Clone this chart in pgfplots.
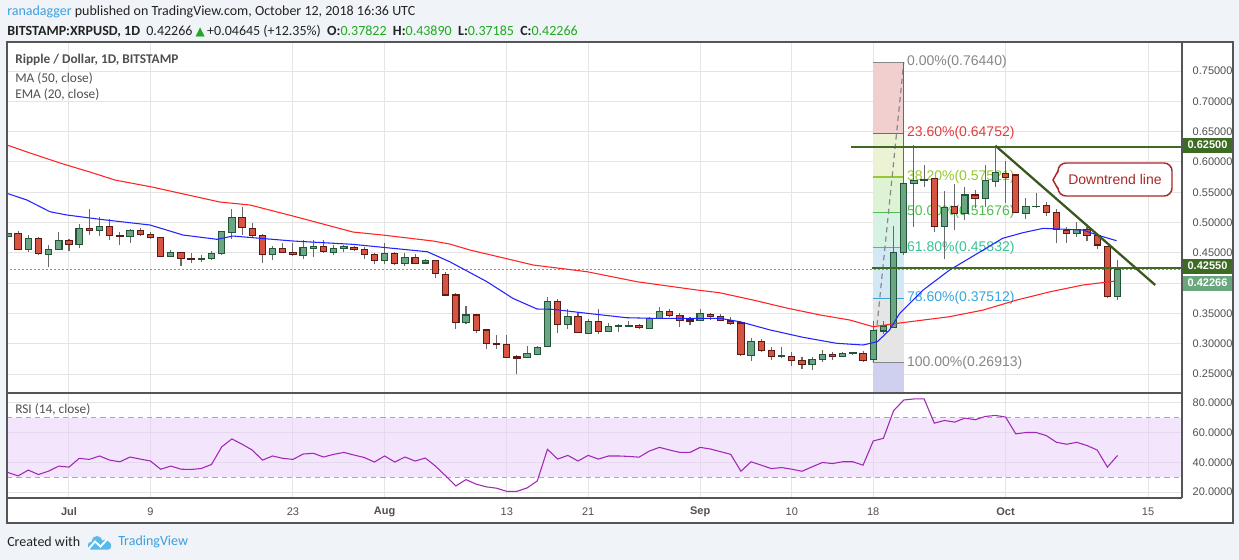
\documentclass[border=0pt]{standalone}
\usepackage{pgfplots}
\pgfplotsset{compat=1.18}
\usepackage{pgfplotstable}
\usepackage{fontspec}
\setmainfont{Carlito}
\newfontfamily\lib{Liberation Sans}
\newfontfamily\dejavu{DejaVu Sans}
\newcommand\fs[1]{\fontsize{#1}{#1}\selectfont}
\definecolor{pagebg}{RGB}{240,243,248}
\definecolor{framec}{RGB}{85,85,85}
\definecolor{gridc}{RGB}{228,228,228}
\definecolor{labc}{RGB}{80,80,80}
\definecolor{upfill}{RGB}{107,165,131}
\definecolor{upline}{RGB}{34,84,55}
\definecolor{dnfill}{RGB}{215,84,66}
\definecolor{dnline}{RGB}{91,26,19}
\definecolor{wickc}{RGB}{105,105,105}
\definecolor{mared}{RGB}{255,35,35}
\definecolor{emablue}{RGB}{35,35,255}
\definecolor{lvlgreen}{RGB}{61,107,35}
\definecolor{trendc}{RGB}{58,88,30}
\definecolor{lastc}{RGB}{106,167,126}
\definecolor{callc}{RGB}{170,40,40}
\definecolor{rsic}{RGB}{160,40,180}
\definecolor{rsiband}{RGB}{231,205,251}
\definecolor{rsidash}{RGB}{175,165,185}
\definecolor{tvblue}{RGB}{58,160,224}
\definecolor{tvlogo}{RGB}{90,185,234}
\definecolor{tvgreen}{RGB}{30,170,30}
\definecolor{hdr}{RGB}{35,35,35}
\definecolor{fibgray}{RGB}{135,135,135}
\definecolor{fibred}{RGB}{224,62,62}
\definecolor{fibyg}{RGB}{150,200,50}
\definecolor{fibg}{RGB}{80,190,80}
\definecolor{fibteal}{RGB}{55,196,150}
\definecolor{fibblue}{RGB}{55,165,220}
\definecolor{bandA}{RGB}{242,207,207}
\definecolor{bandB}{RGB}{236,243,213}
\definecolor{bandC}{RGB}{222,243,212}
\definecolor{bandD}{RGB}{214,242,228}
\definecolor{bandE}{RGB}{210,233,245}
\definecolor{bandF}{RGB}{229,229,229}
\definecolor{bandG}{RGB}{207,207,240}

\pgfplotstableread{
d o h l c
-6 0.4766 0.4992 0.4761 0.4822
-5 0.4822 0.4860 0.4546 0.4558
-4 0.4558 0.4794 0.4518 0.4739
-3 0.4739 0.4756 0.4464 0.4492
-2 0.4475 0.4629 0.4271 0.4558
-1 0.4558 0.4843 0.4546 0.4706
0 0.4706 0.4723 0.4534 0.4640
1 0.4640 0.4975 0.4574 0.4904
2 0.4904 0.5218 0.4794 0.4871
3 0.4871 0.5086 0.4782 0.4942
4 0.4942 0.5053 0.4711 0.4789
5 0.4789 0.4848 0.4629 0.4766
6 0.4766 0.4893 0.4667 0.4871
7 0.4871 0.4904 0.4777 0.4805
8 0.4805 0.4843 0.4723 0.4749
9 0.4756 0.4766 0.4431 0.4442
10 0.4442 0.4546 0.4426 0.4508
11 0.4508 0.4518 0.4282 0.4409
12 0.4409 0.4492 0.4327 0.4386
13 0.4386 0.4464 0.4353 0.4409
14 0.4403 0.4530 0.4381 0.4485
15 0.4492 0.4865 0.4464 0.4855
16 0.4838 0.5223 0.4728 0.5086
17 0.5086 0.5261 0.4794 0.4921
18 0.4904 0.4997 0.4739 0.4789
19 0.4789 0.4810 0.4337 0.4469
20 0.4475 0.4617 0.4381 0.4574
21 0.4574 0.4667 0.4502 0.4502
22 0.4508 0.4667 0.4447 0.4475
23 0.4453 0.4711 0.4398 0.4591
24 0.4574 0.4711 0.4436 0.4607
25 0.4607 0.4711 0.4502 0.4518
26 0.4508 0.4629 0.4464 0.4574
27 0.4574 0.4629 0.4518 0.4607
28 0.4591 0.4612 0.4534 0.4558
29 0.4558 0.4601 0.4393 0.4475
30 0.4475 0.4492 0.4310 0.4376
31 0.4376 0.4657 0.4310 0.4492
32 0.4492 0.4518 0.4299 0.4327
33 0.4327 0.4502 0.4288 0.4426
34 0.4426 0.4480 0.4310 0.4327
35 0.4332 0.4403 0.4310 0.4381
36 0.4376 0.4381 0.4079 0.4162
37 0.4145 0.4178 0.3804 0.3804
38 0.3804 0.3832 0.3243 0.3353
39 0.3353 0.3627 0.3325 0.3474
40 0.3474 0.3474 0.3172 0.3221
41 0.3226 0.3243 0.2918 0.3000
42 0.3007 0.3144 0.2918 0.2984
43 0.2990 0.3144 0.2759 0.2776
44 0.2781 0.2808 0.2495 0.2759
45 0.2776 0.2970 0.2759 0.2842
46 0.2825 0.2970 0.2808 0.2941
47 0.2957 0.3776 0.2951 0.3700
48 0.3700 0.3733 0.3172 0.3320
49 0.3320 0.3568 0.3238 0.3452
50 0.3452 0.3529 0.3188 0.3188
51 0.3172 0.3403 0.3172 0.3370
52 0.3370 0.3573 0.3155 0.3205
53 0.3205 0.3337 0.3196 0.3287
54 0.3287 0.3320 0.3196 0.3304
55 0.3287 0.3375 0.3271 0.3304
56 0.3298 0.3320 0.3238 0.3265
57 0.3254 0.3447 0.3238 0.3419
58 0.3419 0.3611 0.3403 0.3535
59 0.3535 0.3568 0.3436 0.3469
60 0.3469 0.3502 0.3271 0.3386
61 0.3391 0.3436 0.3304 0.3375
62 0.3386 0.3568 0.3370 0.3502
63 0.3485 0.3502 0.3386 0.3447
64 0.3452 0.3485 0.3370 0.3386
65 0.3375 0.3436 0.3304 0.3337
66 0.3342 0.3370 0.2803 0.2825
67 0.2808 0.3089 0.2720 0.3040
68 0.3040 0.3073 0.2858 0.2891
69 0.2891 0.2951 0.2731 0.2786
70 0.2786 0.2951 0.2759 0.2797
71 0.2792 0.2863 0.2632 0.2726
72 0.2726 0.2781 0.2583 0.2660
73 0.2660 0.2776 0.2566 0.2743
74 0.2743 0.2896 0.2704 0.2825
75 0.2825 0.2869 0.2737 0.2786
76 0.2786 0.2869 0.2786 0.2842
77 0.2836 0.2858 0.2820 0.2847
78 0.2842 0.2880 0.2704 0.2720
79 0.2743 0.3380 0.26913 0.3215
80 0.3210 0.3380 0.3155 0.3292
81 0.3271 0.4942 0.3265 0.4508
82 0.4508 0.7644 0.4464 0.5646
83 0.5646 0.6279 0.4931 0.5701
84 0.5701 0.5949 0.5591 0.5717
85 0.5728 0.5728 0.4848 0.4931
86 0.4931 0.5525 0.4393 0.5251
87 0.5272 0.5630 0.4876 0.5152
88 0.5152 0.5581 0.5041 0.5454
89 0.5454 0.5536 0.5234 0.5399
90 0.5399 0.5949 0.5261 0.5701
91 0.5673 0.6251 0.5591 0.5828
92 0.5812 0.6015 0.5317 0.5746
93 0.5784 0.5784 0.5152 0.5168
94 0.5152 0.5399 0.5053 0.5261
95 0.5261 0.5482 0.5234 0.5272
96 0.5278 0.5333 0.5113 0.5168
97 0.5168 0.5218 0.4657 0.4888
98 0.4876 0.4931 0.4667 0.4822
99 0.4822 0.5014 0.4766 0.4888
100 0.4888 0.4931 0.4700 0.4789
101 0.4789 0.4810 0.4563 0.4629
102 0.4601 0.4601 0.3755 0.3782
103 0.37822 0.43890 0.37185 0.42266
}\candles

\pgfplotstableread{
d v
-6.09 0.6279
-3.83 0.6147
-0.88 0.5982
2.06 0.5833
4.52 0.5701
8.15 0.5586
14.83 0.5338
17.78 0.5289
22.0 0.5107
27.9 0.4843
30.8 0.4794
35.76 0.4695
37.4 0.4645
39.4 0.4546
45.6 0.4299
50.9 0.4188
55.8 0.4023
61.7 0.3886
63.9 0.3842
67.2 0.3721
70.5 0.3589
73.8 0.3474
76.7 0.3391
79.0 0.3281
81.6 0.3342
86.5 0.3446
89.8 0.3556
93.1 0.3721
96.4 0.3858
99.6 0.3969
102.8 0.4035
}\matab

\pgfplotstableread{
d v
-6.09 0.5482
-4.13 0.5371
-1.87 0.5178
-0.2 0.5124
3.05 0.5053
7.96 0.4959
11.2 0.4794
14.54 0.4723
16.1 0.4777
22.0 0.4695
27.9 0.4640
30.8 0.4591
32.5 0.4563
35.2 0.4518
37.4 0.4353
41.06 0.4023
43.6 0.3749
45.97 0.3573
47.5 0.3568
50.9 0.3502
54.8 0.3429
57.4 0.3419
63.95 0.3419
65.9 0.3363
68.9 0.3226
72.1 0.3106
75.4 0.3007
78.0 0.2979
79.4 0.3033
80.6 0.3226
81.6 0.3502
83.9 0.3886
86.5 0.4216
89.8 0.4546
91.7 0.4739
93.7 0.4832
95.7 0.4904
99.6 0.4876
101.0 0.4794
102.9 0.4700
}\ematab

\pgfplotstableread{
d r
-6 33.2
-5 30.9
-4 34.8
-3 31.8
-2 34.1
-1 37.5
0 36.8
1 42.7
2 42.0
3 44.3
4 41.5
5 40.4
6 43.6
7 42.2
8 40.9
9 35.4
10 37.5
11 35.4
12 35.2
13 35.9
14 38.6
15 50.4
16 55.8
17 52.2
18 48.3
19 41.5
20 44.3
21 42.7
22 42.0
23 45.6
24 46.1
25 43.6
26 45.4
27 46.7
28 44.9
29 43.3
30 40.2
31 44.3
32 40.2
33 43.6
34 40.9
35 42.9
36 37.5
37 30.9
38 24.1
39 28.4
40 25.3
41 23.5
42 22.6
43 20.5
44 20.5
45 22.8
46 27.5
47 48.8
48 42.2
49 44.7
50 40.9
51 44.7
52 42.2
53 44.3
54 44.3
55 44.0
56 43.5
57 47.6
58 50.1
59 48.3
60 46.7
61 46.7
62 50.1
63 49.0
64 47.2
65 45.4
66 34.0
67 40.4
68 38.1
69 35.8
70 36.5
71 35.4
72 34.0
73 37.0
74 39.9
75 39.2
76 40.4
77 40.4
78 38.1
79 54.4
80 56.2
81 74.8
82 82.0
83 82.7
84 82.7
85 66.4
86 68.2
87 67.1
88 69.8
89 68.7
90 70.9
91 71.6
92 70.5
93 59.2
94 60.1
95 60.1
96 58.0
97 53.5
98 52.2
99 53.5
100 51.3
101 48.3
102 36.8
103 44.7
}\rsitab

\pgfplotsset{
  tvaxis/.style={
    scale only axis, anchor=north west,
    xmin=-6.09, xmax=109.33,
    axis line style={draw=none},
    major tick length=0pt,
    grid=major,
    major grid style={draw=gridc, line width=0.75pt},
    xtick={0,8,22,31,43,51,62,71,79,92,106},
    scaled y ticks=false,
    yticklabel pos=right,
    yticklabel style={font=\lib\fs{8.25}, text=labc, anchor=west, xshift=4.5pt},
    clip=true,
  }
}

\begin{document}
\begin{tikzpicture}[x=0.75pt,y=-0.75pt]
\fill[pagebg] (0,0) rectangle (1239,560);
\fill[white] (7,42) rectangle (1233,523);

% ---------------- price panel ----------------
\begin{axis}[tvaxis,
  at={(5.25pt,-31.5pt)}, width=881.25pt, height=263.25pt,
  ymin=0.2187, ymax=0.7979,
  ytick={0.25,0.30,0.35,0.45,0.50,0.55,0.60,0.65,0.70,0.75},
  extra y ticks={0.40}, extra y tick labels={},
  extra y tick style={grid=major, major tick length=0pt},
  xticklabels={},
  yticklabel style={/pgf/number format/.cd, fixed, fixed zerofill, precision=5, assume math mode=true},
]
% fib bands
\addplot[fill=bandA, draw=none, forget plot] coordinates {(79,0.64752)(82,0.64752)(82,0.7644)(79,0.7644)} --cycle;
\addplot[fill=bandB, draw=none, forget plot] coordinates {(79,0.57521)(82,0.57521)(82,0.64752)(79,0.64752)} --cycle;
\addplot[fill=bandC, draw=none, forget plot] coordinates {(79,0.51676)(82,0.51676)(82,0.57521)(79,0.57521)} --cycle;
\addplot[fill=bandD, draw=none, forget plot] coordinates {(79,0.45832)(82,0.45832)(82,0.51676)(79,0.51676)} --cycle;
\addplot[fill=bandE, draw=none, forget plot] coordinates {(79,0.37512)(82,0.37512)(82,0.45832)(79,0.45832)} --cycle;
\addplot[fill=bandF, draw=none, forget plot] coordinates {(79,0.26913)(82,0.26913)(82,0.37512)(79,0.37512)} --cycle;
\addplot[fill=bandG, draw=none, forget plot] coordinates {(79,0.20)(82,0.20)(82,0.26913)(79,0.26913)} --cycle;
% fib levels
\addplot[fibgray, line width=0.9pt, forget plot] coordinates {(79,0.7644)(82,0.7644)};
\addplot[fibred, line width=0.9pt, forget plot] coordinates {(79,0.64752)(82,0.64752)};
\addplot[fibyg, line width=0.9pt, forget plot] coordinates {(79,0.57521)(82,0.57521)};
\addplot[fibg, line width=0.9pt, forget plot] coordinates {(79,0.51676)(82,0.51676)};
\addplot[fibteal, line width=0.9pt, forget plot] coordinates {(79,0.45832)(82,0.45832)};
\addplot[fibblue, line width=0.9pt, forget plot] coordinates {(79,0.37512)(82,0.37512)};
\addplot[fibgray, line width=0.9pt, forget plot] coordinates {(79,0.26913)(82,0.26913)};
\addplot[fibgray, line width=0.9pt, dash pattern=on 4pt off 3pt, forget plot] coordinates {(79,0.26913)(82,0.7644)};
\node[anchor=west, text=fibgray, font=\lib\fs{10.5}, inner sep=0pt] at (axis cs:82.3,0.7644) {0.00\%(0.76440)};
\node[anchor=west, text=fibred, font=\lib\fs{10.5}, inner sep=0pt] at (axis cs:82.3,0.64752) {23.60\%(0.64752)};
\node[anchor=west, text=fibyg, font=\lib\fs{10.5}, inner sep=0pt] at (axis cs:82.3,0.57521) {38.20\%(0.57521)};
\node[anchor=west, text=fibg, font=\lib\fs{10.5}, inner sep=0pt] at (axis cs:82.3,0.51676) {50.00\%(0.51676)};
\node[anchor=west, text=fibteal, font=\lib\fs{10.5}, inner sep=0pt] at (axis cs:82.3,0.45832) {61.80\%(0.45832)};
\node[anchor=west, text=fibblue, font=\lib\fs{10.5}, inner sep=0pt] at (axis cs:82.3,0.37512) {78.60\%(0.37512)};
\node[anchor=west, text=fibgray, font=\lib\fs{10.5}, inner sep=0pt] at (axis cs:82.3,0.26913) {100.00\%(0.26913)};
% last price line
\addplot[lastc, line width=0.75pt, dash pattern=on 1.5pt off 1.5pt, forget plot] coordinates {(-7,0.42266)(110,0.42266)};
% candles
\pgfplotstablegetrowsof{\candles}
\pgfmathtruncatemacro{\lastrow}{\pgfplotsretval-1}
\pgfplotsforeachungrouped \i in {0,...,\lastrow}{%
  \pgfplotstablegetelem{\i}{d}\of\candles \edef\cd{\pgfplotsretval}%
  \pgfplotstablegetelem{\i}{o}\of\candles \edef\co{\pgfplotsretval}%
  \pgfplotstablegetelem{\i}{h}\of\candles \edef\ch{\pgfplotsretval}%
  \pgfplotstablegetelem{\i}{l}\of\candles \edef\cl{\pgfplotsretval}%
  \pgfplotstablegetelem{\i}{c}\of\candles \edef\cc{\pgfplotsretval}%
  \pgfmathtruncatemacro{\up}{\cc>=\co}%
  \ifnum\up=1 \def\fc{upfill}\def\bc{upline}\else\def\fc{dnfill}\def\bc{dnline}\fi
  \pgfmathsetmacro{\xa}{\cd-0.31}%
  \pgfmathsetmacro{\xb}{\cd+0.31}%
  \edef\temp{\noexpand\addplot[draw=wickc, line width=0.8pt, forget plot] coordinates {(\cd,\cl) (\cd,\ch)};
  \noexpand\addplot[draw=\bc, fill=\fc, line width=0.8pt, forget plot] coordinates {(\xa,\co) (\xb,\co) (\xb,\cc) (\xa,\cc)} --cycle;}%
  \temp
}
% moving averages
\addplot[mared, line width=0.8pt, forget plot] table[x=d, y=v] {\matab};
\addplot[emablue, line width=0.8pt, forget plot] table[x=d, y=v] {\ematab};
% horizontal levels and trend line
\addplot[lvlgreen, line width=1.7pt, forget plot] coordinates {(76.8,0.625)(110,0.625)};
\addplot[lvlgreen, line width=1.7pt, forget plot] coordinates {(78.9,0.4255)(110,0.4255)};
\addplot[trendc, line width=1.7pt, forget plot] coordinates {(91.0,0.6268)(106.7,0.3969)};
\end{axis}

% ---------------- RSI panel ----------------
\begin{axis}[tvaxis,
  at={(5.25pt,-294.75pt)}, width=881.25pt, height=78.75pt,
  ymin=16, ymax=86.7,
  ytick={20,40,60,80},
  yticklabel style={/pgf/number format/.cd, fixed, fixed zerofill, precision=4, assume math mode=true},
  xticklabels={\textbf{Jul},9,23,\textbf{Aug},13,21,\textbf{Sep},10,18,\textbf{Oct},15},
  xticklabel style={font=\lib\fs{8.25}, text=labc, anchor=center, yshift=-10.5pt},
]
\addplot[fill=rsiband, fill opacity=0.5, draw=none, forget plot] coordinates {(-7,30)(110,30)(110,70)(-7,70)} --cycle;
\addplot[rsidash, line width=0.75pt, dash pattern=on 4pt off 3pt, forget plot] coordinates {(-7,70)(110,70)};
\addplot[rsidash, line width=0.75pt, dash pattern=on 4pt off 3pt, forget plot] coordinates {(-7,30)(110,30)};
\addplot[rsic, line width=0.8pt, forget plot] table[x=d, y=r] {\rsitab};
\end{axis}

% ---------------- frame ----------------
\draw[framec, line width=0.9pt] (7,42) rectangle (1233,523);
\draw[framec, line width=0.9pt] (1182,42) -- (1182,498);
\draw[framec, line width=0.9pt] (7,393) -- (1182,393);
\draw[framec, line width=0.9pt] (7,498) -- (1182,498);

% price axis value labels
\fill[lvlgreen] (1183,137.5) rectangle (1232,152.5);
\node[text=white, font=\lib\bfseries\fs{8.25}, inner sep=0pt] at (1207.5,145) {0.62500};
\fill[lvlgreen] (1183,258.5) rectangle (1232,273.5);
\node[text=white, font=\lib\bfseries\fs{8.25}, inner sep=0pt] at (1207.5,266) {0.42550};
\fill[lastc] (1183,275.5) rectangle (1232,290.5);
\node[text=white, font=\lib\bfseries\fs{8.25}, inner sep=0pt] at (1207.5,283) {0.42266};

% callout
\draw[callc, line width=1.1pt, fill=white, rounded corners=6pt] (1058,163) rectangle (1172,196);
\fill[white] (1059.6,171) -- (1053,180) -- (1059.6,189) -- cycle;
\draw[callc, line width=1.1pt] (1058,171) -- (1053,180) -- (1058,189);
\node[text=callc, font=\lib\fs{10.5}] at (1115,179.5) {Downtrend line};

% legends inside panels
\node[anchor=west, text=labc, font=\bfseries\fs{10}, inner sep=0pt] at (15,60) {Ripple / Dollar, 1D, BITSTAMP};
\node[anchor=west, text=labc, font=\fs{10}, inner sep=0pt] at (15,79) {MA (50, close)};
\node[anchor=west, text=labc, font=\fs{10}, inner sep=0pt] at (15,95) {EMA (20, close)};
\node[anchor=west, text=labc, font=\fs{10}, inner sep=0pt] at (15,410) {RSI (14, close)};

% header
\node[anchor=west, text=hdr, font=\fs{10.5}, inner sep=0pt] at (7,12) {{\color{tvblue}ranadagger} published on TradingView.com, October 12, 2018 16:36 UTC};
\node[anchor=west, text=hdr, font=\fs{10.5}, inner sep=0pt] at (7,31) {\textbf{BITSTAMP:XRPUSD, 1D}\ \ 0.42266 {\color{tvgreen}\dejavu\fs{9}▲}\,+0.04645 (+12.35\%)\ \ \textbf{O:}{\color{tvgreen}0.37822}\ \ \textbf{H:}{\color{tvgreen}0.43890}\ \ \textbf{L:}{\color{tvgreen}0.37185}\ \ \textbf{C:}{\color{tvgreen}0.42266}};

% footer
\node[anchor=west, text=hdr, font=\fs{10.5}, inner sep=0pt] at (7,542) {Created with};
\fill[tvlogo] (97,541.5) circle (5.5);
\fill[tvlogo] (105,544) circle (4.5);
\fill[tvlogo, rounded corners=2pt] (88,542) rectangle (111,549.5);
\draw[white, line width=1.4pt] (88.5,549) -- (95,541.5) -- (100.5,546.5) -- (107,539.5);
\node[anchor=west, text=tvblue, font=\fs{10.5}, inner sep=0pt] at (118,542) {TradingView};

\pgfresetboundingbox
\path[use as bounding box] (0,0) rectangle (1239,560);
\end{tikzpicture}
\end{document}
